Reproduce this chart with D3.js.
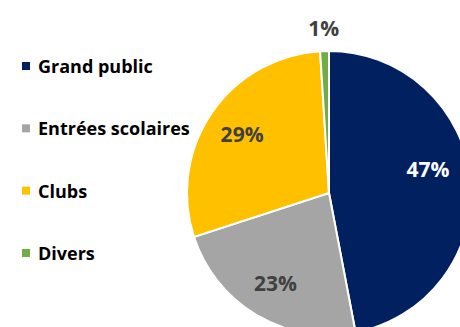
<!DOCTYPE html>
<html>
<head>
<meta charset="UTF-8" />
<script src="https://d3js.org/d3.v7.min.js"></script>
<style>
body { margin: 0px; background: #fff; }
</style>
</head>
<body>
<svg id="chart" width="460" height="327"></svg>
<script>
const categories = ["Grand public", "Entrées scolaires", "Clubs", "Divers"];
const values = [47, 23, 29, 1];
const colors = ["#002060", "#A5A5A5", "#FFC000", "#70AD47"];
const labelColors = ["#ffffff", "#404040", "#404040", "#404040"];

let svg = d3.select("#chart");
let width = 460, height = 327;
let cx = 329, cy = 193, radius = 142;
let font = "'Open Sans', sans-serif";

svg.append("rect").attr("width", width).attr("height", height).attr("fill", "#fff");

let data = categories.map((c, i) => ({name: c, value: values[i], color: colors[i], label: labelColors[i]}));

// pie starts at 12 o'clock, clockwise, no sorting
let pie = d3.pie().value(d => d.value).sort(null);
let arc = d3.arc().innerRadius(0).outerRadius(radius);
let arcs = pie(data);

let g = svg.append("g").attr("transform", `translate(${cx},${cy})`);

g.selectAll("path.slice")
    .data(arcs)
    .enter().append("path")
    .attr("class", "slice")
    .attr("d", arc)
    .attr("fill", d => d.data.color)
    .attr("stroke", "#fff")
    .attr("stroke-width", 2);

// label positions (inside, small slice outside)
let labelArc = d3.arc().innerRadius(radius * 0.74).outerRadius(radius * 0.74);
let outerArc = d3.arc().innerRadius(radius * 1.16).outerRadius(radius * 1.16);

g.selectAll("text.pct")
    .data(arcs)
    .enter().append("text")
    .attr("class", "pct")
    .attr("transform", d => {
        let p = d.data.value < 5 ? outerArc.centroid(d) : labelArc.centroid(d);
        // keep label inside the visible area, slide it up along the slice
        if (p[0] > width - cx - 32) {
            p[1] -= (p[0] - (width - cx - 32)) * 2.5;
            p[0] = width - cx - 32;
        }
        return `translate(${p[0]},${p[1]})`;
    })
    .attr("text-anchor", "middle")
    .attr("dominant-baseline", "central")
    .attr("font-family", font)
    .attr("font-weight", "bold")
    .attr("font-size", 21)
    .attr("fill", d => d.data.label)
    .text(d => d.data.value + "%");

// legend
let legend = svg.append("g").attr("transform", "translate(22,66)");
let rowY = d3.scalePoint().domain(categories).range([0, 187]);

let items = legend.selectAll("g.item")
    .data(data)
    .enter().append("g")
    .attr("class", "item")
    .attr("transform", d => `translate(0,${rowY(d.name)})`);

items.append("rect")
    .attr("x", 0).attr("y", -4)
    .attr("width", 8).attr("height", 8)
    .attr("fill", d => d.color);

items.append("text")
    .attr("x", 16)
    .attr("y", 0)
    .attr("dominant-baseline", "central")
    .attr("font-family", font)
    .attr("font-weight", "bold")
    .attr("font-size", 18)
    .attr("fill", "#000")
    .text(d => d.name);
</script>
</body>
</html>
